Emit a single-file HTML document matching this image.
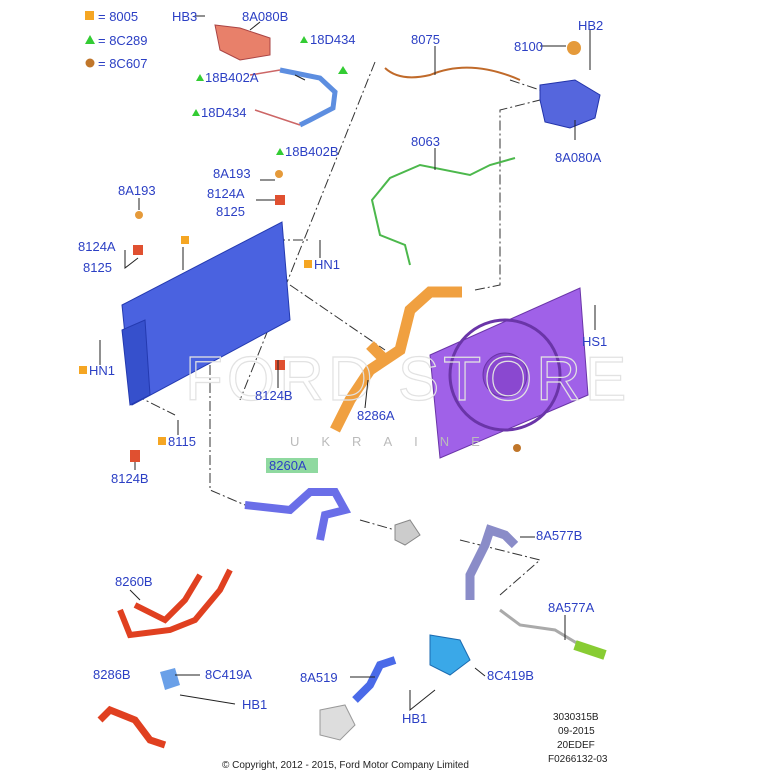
<!DOCTYPE html>
<html><head><meta charset="utf-8"><style>
body{margin:0;background:#fff}
svg{display:block}
.t{font-family:"Liberation Sans",sans-serif;font-size:13px;fill:#2b3fc4}
.s{font-family:"Liberation Sans",sans-serif;font-size:10px;fill:#222}
.d{stroke:#333;stroke-width:1;fill:none;stroke-dasharray:10 3 2 3}
.l{stroke:#222;stroke-width:1;fill:none}
</style></head><body>
<svg width="770" height="775" viewBox="0 0 770 775" xmlns="http://www.w3.org/2000/svg">
<!-- legend -->
<rect x="85" y="11" width="9" height="9" fill="#f5a623"/><text class="t" x="98" y="21">= 8005</text>
<polygon points="90,35 95,44 85,44" fill="#3c3"/><text class="t" x="98" y="45">= 8C289</text>
<circle cx="90" cy="63" r="4.5" fill="#c0762a"/><text class="t" x="98" y="68">= 8C607</text>
<!-- dash lines -->
<path class="d" d="M375,62 L240,400 M290,285 L385,350 M210,365 L210,490 L245,505 M360,520 L395,530 M275,240 L310,240 M130,340 L210,365 M475,290 L500,285 L500,110 L540,100 M510,80 L540,90 M460,540 L540,560 L500,595 M135,395 L175,415"/>
<!-- top tank 8A080B -->
<path d="M215,25 L240,28 L270,38 L270,55 L240,60 L220,50 Z" fill="#e8806a" stroke="#a44" />
<!-- small hoses top -->
<path d="M280,70 L320,78 L335,92 L333,108 L310,120 L300,125" stroke="#5d8ee0" stroke-width="5" fill="none"/>
<path d="M250,75 L280,70 M255,110 L300,125" stroke="#c66" stroke-width="1.5" fill="none"/>
<!-- 8075 wire -->
<path d="M385,68 Q400,82 430,75 Q470,58 520,80" stroke="#c06a2a" stroke-width="2" fill="none"/>
<!-- 8A080A tank -->
<path d="M540,85 L575,80 L600,95 L595,118 L570,128 L545,122 L540,100 Z" fill="#5566dd" stroke="#2233aa"/>
<circle cx="574" cy="48" r="7" fill="#e59a3a"/>
<!-- 8063 green -->
<path d="M515,158 L490,165 L470,175 L420,165 L390,178 L372,200 L380,235 L405,245 L410,265" stroke="#4cb84c" stroke-width="2" fill="none"/>
<!-- radiator -->
<polygon points="122,305 282,222 290,320 132,405" fill="#4a62e0" stroke="#243ab0"/>
<polygon points="122,330 145,320 150,395 130,405" fill="#3650cc" stroke="#243ab0"/>
<!-- fan shroud -->
<polygon points="430,355 580,288 588,395 440,458" fill="#a061e8" stroke="#6a35a8"/>
<circle cx="505" cy="375" r="55" fill="none" stroke="#6a35a8" stroke-width="3"/>
<circle cx="505" cy="375" r="22" fill="#8a48d0" stroke="#6a35a8"/>
<!-- 8286A orange hose -->
<path d="M462,292 L430,292 L410,310 L400,350 L370,370 L350,400 L335,430" stroke="#f0a040" stroke-width="11" fill="none"/>
<path d="M370,345 L385,360" stroke="#f0a040" stroke-width="11"/>
<!-- watermark -->
<text x="185" y="400" font-family="Liberation Sans,sans-serif" font-size="62" fill="none" stroke="#e2e2e2" stroke-width="1.2" letter-spacing="4">FORD STORE</text>
<text x="290" y="446" font-family="Liberation Sans,sans-serif" font-size="13" fill="#bbb" letter-spacing="22">UKRAINE</text>
<!-- 8260A blue hose -->
<path d="M245,505 L290,510 L310,492 L335,492 L345,510 L325,515 L320,540" stroke="#6a6ee8" stroke-width="8" fill="none"/>
<path d="M395,525 L410,520 L420,535 L405,545 L395,540Z" fill="#ccc" stroke="#888"/>
<!-- 8A577B -->
<path d="M470,600 L470,575 L485,545 L490,530 L505,535 L515,545" stroke="#8a8cc8" stroke-width="9" fill="none"/>
<!-- 8A577A -->
<path d="M500,610 L520,625 L555,630 L580,645 L605,655" stroke="#aaa" stroke-width="3" fill="none"/>
<path d="M575,645 L605,655" stroke="#8c3" stroke-width="10"/>
<!-- 8260B red -->
<path d="M120,610 L130,635 L170,630 L195,620 L220,590 L230,570 M135,605 L165,620 L185,600 L200,575" stroke="#e04020" stroke-width="6" fill="none"/>
<!-- 8286B red -->
<path d="M100,720 L110,710 L135,720 L150,740 L165,745" stroke="#e04020" stroke-width="7" fill="none"/>
<path d="M160,672 L175,668 L180,685 L165,690Z" fill="#6aa0e8"/>
<!-- 8A519 / 8C419B -->
<path d="M395,660 L380,665 L370,685 L355,700" stroke="#4a6ae8" stroke-width="8" fill="none"/>
<path d="M430,635 L460,640 L470,660 L450,675 L430,665Z" fill="#3aa8e8" stroke="#1a6ab0"/>
<path d="M320,710 L345,705 L355,725 L340,740 L320,735Z" fill="#ddd" stroke="#999"/>
<!-- small clips -->
<rect x="133" y="245" width="10" height="10" fill="#e05030"/><rect x="275" y="195" width="10" height="10" fill="#e05030"/>
<rect x="275" y="360" width="10" height="10" fill="#e05030"/><rect x="130" y="450" width="10" height="12" fill="#e05030"/>
<circle cx="139" cy="215" r="4" fill="#e59a3a"/><circle cx="279" cy="174" r="4" fill="#e59a3a"/>
<circle cx="517" cy="448" r="4" fill="#c0762a"/>
<rect x="181" y="236" width="8" height="8" fill="#f5a623"/>
<rect x="304" y="260" width="8" height="8" fill="#f5a623"/>
<rect x="79" y="366" width="8" height="8" fill="#f5a623"/>
<rect x="158" y="437" width="8" height="8" fill="#f5a623"/>
<polygon points="304,36 308,43 300,43" fill="#3c3"/><polygon points="343,66 348,74 338,74" fill="#3c3"/>
<polygon points="200,74 204,81 196,81" fill="#3c3"/><polygon points="196,109 200,116 192,116" fill="#3c3"/>
<polygon points="280,148 284,155 276,155" fill="#3c3"/>
<!-- leader lines -->
<path class="l" d="M183,247 L183,270 M205,16 L195,16 M260,22 L250,30 M435,46 L435,75 M540,46 L566,46 M590,30 L590,70 M575,140 L575,120 M435,148 L435,170 M260,180 L275,180 M256,200 L275,200 M125,250 L125,268 L138,258 M139,198 L139,210 M320,240 L320,258 M100,340 L100,365 M595,305 L595,330 M278,360 L278,388 M368,380 L365,408 M178,420 L178,435 M135,462 L135,470 M130,590 L140,600 M175,675 L200,675 M180,695 L235,704 M410,690 L410,710 L435,690 M475,668 L485,676 M350,677 L375,677 M520,537 L535,537 M565,615 L565,640 M295,75 L305,80"/>
<rect x="266" y="458" width="52" height="15" fill="#8fd9a0"/>
<!-- labels -->
<text class="t" x="172" y="21">HB3</text><text class="t" x="242" y="21">8A080B</text>
<text class="t" x="310" y="44">18D434</text><text class="t" x="205" y="82">18B402A</text>
<text class="t" x="201" y="117">18D434</text><text class="t" x="285" y="156">18B402B</text>
<text class="t" x="411" y="44">8075</text><text class="t" x="514" y="51">8100</text>
<text class="t" x="578" y="30">HB2</text><text class="t" x="555" y="162">8A080A</text>
<text class="t" x="411" y="146">8063</text><text class="t" x="213" y="178">8A193</text>
<text class="t" x="207" y="198">8124A</text><text class="t" x="216" y="216">8125</text>
<text class="t" x="118" y="195">8A193</text><text class="t" x="78" y="251">8124A</text>
<text class="t" x="83" y="272">8125</text><text class="t" x="314" y="269">HN1</text>
<text class="t" x="89" y="375">HN1</text><text class="t" x="582" y="346">HS1</text>
<text class="t" x="255" y="400">8124B</text><text class="t" x="357" y="420">8286A</text>
<text class="t" x="168" y="446">8115</text><text class="t" x="111" y="483">8124B</text>
<text class="t" x="269" y="470">8260A</text><text class="t" x="536" y="540">8A577B</text>
<text class="t" x="548" y="612">8A577A</text><text class="t" x="115" y="586">8260B</text>
<text class="t" x="93" y="679">8286B</text><text class="t" x="205" y="679">8C419A</text>
<text class="t" x="242" y="709">HB1</text><text class="t" x="300" y="682">8A519</text>
<text class="t" x="487" y="680">8C419B</text><text class="t" x="402" y="723">HB1</text>
<text class="s" x="553" y="720">3030315B</text><text class="s" x="558" y="734">09-2015</text>
<text class="s" x="557" y="748">20EDEF</text><text class="s" x="548" y="762">F0266132-03</text>
<text class="s" x="222" y="768">© Copyright, 2012 - 2015, Ford Motor Company Limited</text>
</svg>
</body></html>
